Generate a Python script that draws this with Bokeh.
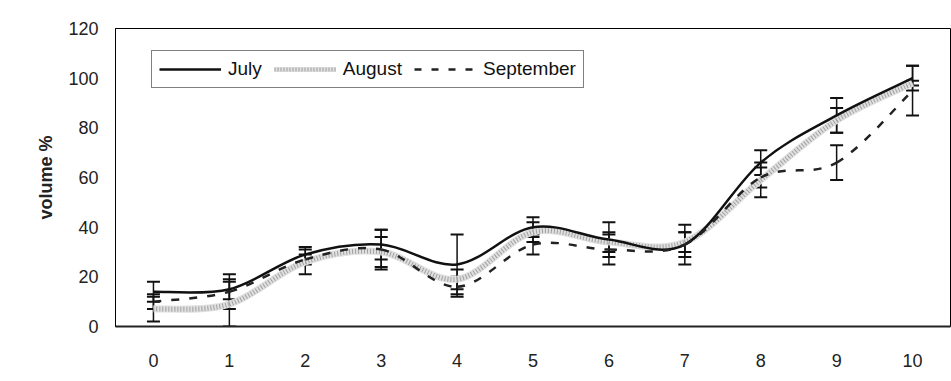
import numpy as np
from bokeh.plotting import figure
from bokeh.models import ColumnDataSource, Whisker, Legend, LegendItem, FixedTicker, TeeHead
from bokeh.embed import file_html
from bokeh.resources import INLINE

x = [0, 1, 2, 3, 4, 5, 6, 7, 8, 9, 10]
july = [14, 15, 29, 33, 25, 40, 35, 33, 66, 85, 100]
august = [7, 9, 26, 30, 19, 38, 34, 34, 59, 83, 98]
september = [10, 14, 27, 31, 16, 33, 31, 33, 60, 66, 95]
july_err = [4, 4, 3, 6, 12, 4, 7, 8, 5, 7, 5]
august_err = [5, 9, 5, 6, 4, 4, 4, 4, 7, 5, 1]
september_err = [3, 7, 2, 8, 4, 4, 6, 5, 4, 7, 10]
y_ticks = [0, 20, 40, 60, 80, 100, 120]

FONT = "Liberation Sans"

p = figure(width=951, height=381, output_backend="svg", toolbar_location=None,
           x_range=(-0.5, 10.5), y_range=(0, 120),
           min_border_left=115, min_border_right=1, min_border_top=28, min_border_bottom=55)
p.xgrid.visible = False
p.ygrid.visible = False
p.outline_line_color = "black"
p.outline_line_width = 1
p.background_fill_color = "white"
p.border_fill_color = "white"

for ax in (p.xaxis[0], p.yaxis[0]):
    ax.major_tick_line_color = None
    ax.minor_tick_line_color = None
    ax.major_label_text_font = FONT
    ax.major_label_text_font_size = "18px"
    ax.major_label_text_color = "#222222"
p.xaxis.ticker = FixedTicker(ticks=x)
p.yaxis.ticker = FixedTicker(ticks=y_ticks)
p.xaxis.axis_line_width = 2
p.xaxis.axis_line_color = "#222222"
p.yaxis.axis_line_color = "black"
p.xaxis.major_label_standoff = 21
p.yaxis.major_label_standoff = 11
p.yaxis.axis_label = "volume %"
p.yaxis.axis_label_text_font = FONT
p.yaxis.axis_label_text_font_style = "bold"
p.yaxis.axis_label_text_font_size = "18px"
p.yaxis.axis_label_text_color = "#222222"
p.yaxis.axis_label_standoff = 9


def smooth(xs, ys):
    xs = np.asarray(xs, float)
    ys = np.asarray(ys, float)
    n = len(xs)
    d = dict(x0=[], y0=[], x1=[], y1=[], cx0=[], cy0=[], cx1=[], cy1=[])
    for i in range(n - 1):
        im = max(i - 1, 0)
        ip = min(i + 2, n - 1)
        d["x0"].append(xs[i]); d["y0"].append(ys[i])
        d["x1"].append(xs[i + 1]); d["y1"].append(ys[i + 1])
        d["cx0"].append(xs[i] + (xs[i + 1] - xs[im]) / 6)
        d["cy0"].append(ys[i] + (ys[i + 1] - ys[im]) / 6)
        d["cx1"].append(xs[i + 1] - (xs[ip] - xs[i]) / 6)
        d["cy1"].append(ys[i + 1] - (ys[ip] - ys[i]) / 6)
    return ColumnDataSource(d)


bz = dict(x0="x0", y0="y0", x1="x1", y1="y1", cx0="cx0", cy0="cy0", cx1="cx1", cy1="cy1")

A_BASE = "#e0e0e0"
A_DOT = "#a0a0a0"
# August: stippled grey band
src_a = smooth(x, august)
p.bezier(source=src_a, line_color=A_BASE, line_width=7, **bz)
p.bezier(source=src_a, line_color=A_DOT, line_width=5, line_dash="1 2", **bz)
# July solid
p.bezier(source=smooth(x, july), line_color="#111111", line_width=2.5, **bz)
# September dashed
p.bezier(source=smooth(x, september), line_color="#222222", line_width=2.5, line_dash="8 10", **bz)

# error bars
for vals, errs in ((july, july_err), (august, august_err), (september, september_err)):
    src = ColumnDataSource(dict(x=x,
                                lo=[v - e for v, e in zip(vals, errs)],
                                hi=[v + e for v, e in zip(vals, errs)]))
    w = Whisker(source=src, base="x", lower="lo", upper="hi", dimension="height",
                line_color="#111111", line_width=1.5,
                lower_head=TeeHead(size=13, line_color="#111111", line_width=2),
                upper_head=TeeHead(size=13, line_color="#111111", line_width=2))
    p.add_layout(w)

# legend proxies (placed outside the visible range)
def proxy():
    return ColumnDataSource(dict(x=[-20, -19], y=[-20, -20]))

r_j = p.line(x="x", y="y", source=proxy(), line_color="#111111", line_width=2.5)
r_a1 = p.line(x="x", y="y", source=proxy(), line_color=A_BASE, line_width=5)
r_a2 = p.line(x="x", y="y", source=proxy(), line_color=A_DOT, line_width=4, line_dash="1 2")
r_s = p.line(x="x", y="y", source=proxy(), line_color="#222222", line_width=2.5, line_dash="7 10")

legend = Legend(items=[LegendItem(label="July", renderers=[r_j]),
                       LegendItem(label="August", renderers=[r_a1, r_a2]),
                       LegendItem(label="September", renderers=[r_s])],
                orientation="horizontal", location=(36, 238),
                glyph_width=62, glyph_height=20, label_standoff=7, spacing=12,
                padding=7, margin=0, label_text_font=FONT, label_text_font_size="19px",
                label_text_color="#111111",
                border_line_color="black", border_line_width=1.5,
                background_fill_color="white", background_fill_alpha=1)
p.add_layout(legend, "center")

open("out.html", "w").write(file_html(p, INLINE))
